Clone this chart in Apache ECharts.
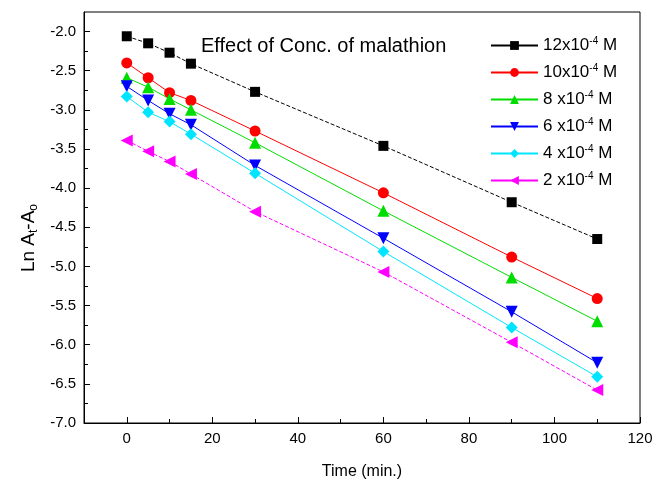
<!DOCTYPE html>
<html>
<head>
<meta charset="utf-8">
<script src="https://cdn.jsdelivr.net/npm/echarts@6/dist/echarts.min.js"></script>
<style>html,body{margin:0;padding:0;background:#fff;}#c{width:657px;height:485px;}</style>
</head>
<body>
<div id="c"></div>
<script>
const times = [0, 5, 10, 15, 30, 60, 90, 110];
const conc = ['12', '10', '8 ', '6 ', '4 ', '2 '];
const s12 = [-2.06, -2.15, -2.27, -2.41, -2.77, -3.46, -4.18, -4.65];
const s10 = [-2.40, -2.59, -2.78, -2.88, -3.27, -4.06, -4.88, -5.41];
const s8  = [-2.59, -2.71, -2.86, -3.00, -3.42, -4.29, -5.14, -5.70];
const s6  = [-2.70, -2.88, -3.05, -3.19, -3.71, -4.64, -5.58, -6.23];
const s4  = [-2.83, -3.03, -3.15, -3.31, -3.81, -4.81, -5.78, -6.41];
const s2  = [-3.39, -3.53, -3.66, -3.82, -4.30, -5.07, -5.97, -6.58];
const xMajor = [0, 20, 40, 60, 80, 100, 120];
const xMinor = [-10, 10, 30, 50, 70, 90, 110];
const yMajor = [-7, -6.5, -6, -5.5, -5, -4.5, -4, -3.5, -3, -2.5, -2];
const yMinor = [-6.75, -6.25, -5.75, -5.25, -4.75, -4.25, -3.75, -3.25, -2.75, -2.25];
const titleText = 'Effect of Conc. of malathion';
const xName = 'Time (min.)';

const values = [s12, s10, s8, s6, s4, s2];
const colors = ['#000000', '#ff0000', '#00dd00', '#0000ff', '#00e5ff', '#ff00ff'];
const symbols = ['rect', 'circle', 'triangle', 'triangle', 'diamond', 'triangle'];
const rotates = [0, 0, 0, 180, 0, 90];
const sizes = [10, 11, 12, 12, 12, 12];
const dashed = [true, false, false, false, false, true];
const names = conc.map(c => c + 'x10-4 M');

const series = values.map((v, i) => ({
  name: names[i],
  type: 'line',
  data: times.map((t, j) => [t, v[j]]),
  symbol: symbols[i],
  symbolRotate: rotates[i],
  symbolSize: sizes[i],
  itemStyle: { color: colors[i] },
  lineStyle: { color: colors[i], width: 1, type: dashed[i] ? [4, 2] : 'solid' },
  xAxisIndex: 0, yAxisIndex: 0,
  animation: false
}));

const font = 'Liberation Sans';
const chart = echarts.init(document.getElementById('c'));
chart.setOption({
  animation: false,
  grid: { left: 84, right: 17, top: 12, bottom: 61, show: true, borderColor: '#000', borderWidth: 1 },
  xAxis: [{
    type: 'value', min: -10, max: 120, position: 'bottom',
    axisLine: { onZero: false, lineStyle: { color: '#000', width: 1 } },
    axisTick: { inside: true, length: 6, customValues: xMajor, lineStyle: { color: '#000' } },
    axisLabel: { customValues: xMajor, color: '#000', fontFamily: font, fontSize: 15, margin: 8 },
    splitLine: { show: false },
    name: xName, nameLocation: 'middle', nameGap: 41,
    nameTextStyle: { color: '#000', fontFamily: font, fontSize: 16 }
  }, {
    type: 'value', min: -10, max: 120, position: 'bottom',
    axisLine: { show: false, onZero: false },
    axisTick: { inside: true, length: 4, customValues: xMinor, lineStyle: { color: '#000' } },
    axisLabel: { show: false }, splitLine: { show: false }
  }],
  yAxis: [{
    type: 'value', min: -7, max: -1.75, position: 'left',
    axisLine: { show: true, onZero: false, lineStyle: { color: '#000', width: 1 } },
    axisTick: { show: true, inside: true, length: 6, customValues: yMajor, lineStyle: { color: '#000' } },
    axisLabel: { customValues: yMajor, color: '#000', fontFamily: font, fontSize: 15, margin: 8,
      formatter: v => v.toFixed(1) },
    splitLine: { show: false }
  }, {
    type: 'value', min: -7, max: -1.75, position: 'left',
    axisLine: { show: false, onZero: false },
    axisTick: { show: true, inside: true, length: 4, customValues: yMinor, lineStyle: { color: '#000' } },
    axisLabel: { show: false }, splitLine: { show: false }
  }],
  legend: {
    orient: 'vertical', left: 485, top: 31,
    itemWidth: 47, itemHeight: 11, itemGap: 9,
    data: names,
    lineStyle: { type: 'solid' },
    formatter: n => {
      const c = n.split('x10')[0];
      return '{n|' + c + 'x10}{s|-4}{n| M}';
    },
    textStyle: {
      color: '#000',
      rich: {
        n: { fontFamily: font, fontSize: 17, color: '#000' },
        s: { fontFamily: font, fontSize: 10, color: '#000', padding: [0, 0, 9, 0] }
      }
    }
  },
  graphic: [{
    type: 'text', left: 201, top: 36,
    style: { text: titleText, font: '20px "Liberation Sans"', fill: '#000' }
  }, {
    type: 'text', x: 29, y: 238, rotation: Math.PI / 2,
    style: {
      text: '{a|Ln A}{b|t}{a|-A}{b|o}',
      align: 'center', verticalAlign: 'middle',
      rich: {
        a: { fontFamily: font, fontSize: 19, fill: '#000' },
        b: { fontFamily: font, fontSize: 12, fill: '#000', padding: [9, 0, 0, 0] }
      }
    }
  }],
  series: series
});
</script>
</body>
</html>
